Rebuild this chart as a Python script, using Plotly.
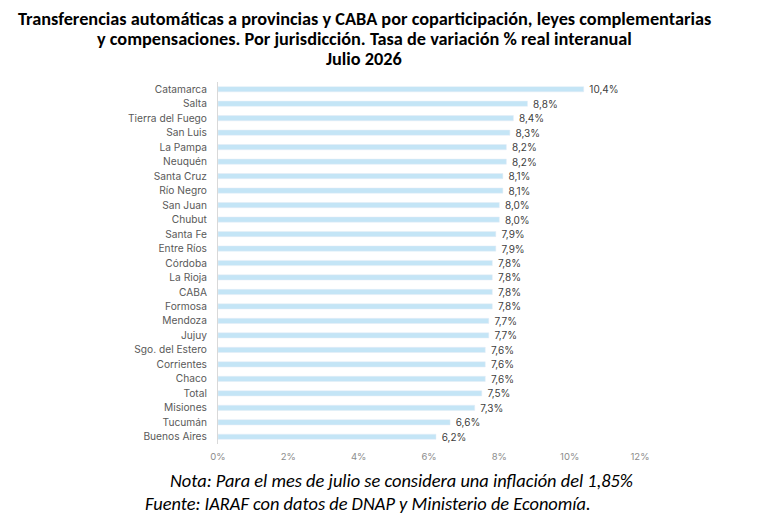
import plotly.graph_objects as go

provincias = ["Catamarca", "Salta", "Tierra del Fuego", "San Luis", "La Pampa", "Neuquén",
              "Santa Cruz", "Río Negro", "San Juan", "Chubut", "Santa Fe", "Entre Ríos",
              "Córdoba", "La Rioja", "CABA", "Formosa", "Mendoza", "Jujuy", "Sgo. del Estero",
              "Corrientes", "Chaco", "Total", "Misiones", "Tucumán", "Buenos Aires"]
variacion = [10.4, 8.8, 8.4, 8.3, 8.2, 8.2, 8.1, 8.1, 8.0, 8.0, 7.9, 7.9,
             7.8, 7.8, 7.8, 7.8, 7.7, 7.7, 7.6, 7.6, 7.6, 7.5, 7.3, 6.6, 6.2]
etiquetas = ["\u00a0\u00a0" + f"{v:.1f}%".replace(".", ",") for v in variacion]
ticks_x = [0, 2, 4, 6, 8, 10, 12]
ticks_x_txt = [f"{t}%" for t in ticks_x]

titulo = ["Transferencias automáticas a provincias y CABA por coparticipación, leyes complementarias",
          "y compensaciones. Por jurisdicción. Tasa de variación % real interanual",
          "Julio 2026"]
nota = "Nota: Para el mes de julio se considera una inflación del 1,85%"
fuente = "Fuente: IARAF con datos de DNAP y Ministerio de Economía."

fig = go.Figure(go.Bar(
    x=variacion, y=provincias, orientation="h",
    marker_color="#C4E5F6",
    text=etiquetas, textposition="outside", cliponaxis=False, constraintext="none",
    textfont=dict(family="Inter", size=10, color="#404040"),
))

# titulo en tres lineas
notas = []
for linea, yy in zip(titulo, [1.175, 1.119, 1.063]):
    notas.append(dict(text=linea, xref="paper", yref="paper", x=0.346, y=yy, xanchor="center",
                      yanchor="middle", showarrow=False,
                      font=dict(family="Carlito, Lato", size=18.3, color="black", weight="bold")))
notas.append(dict(text=nota, xref="paper", yref="paper", x=-0.1185, y=-0.102, xanchor="left",
                  yanchor="middle", showarrow=False,
                  font=dict(family="Carlito, Lato", size=18.4, color="black", style="italic")))
notas.append(dict(text=fuente, xref="paper", yref="paper", x=-0.178, y=-0.163, xanchor="left",
                  yanchor="middle", showarrow=False,
                  font=dict(family="Carlito, Lato", size=18.4, color="black", style="italic")))

fig.update_layout(
    width=772, height=530,
    margin=dict(l=210, r=140, t=74, b=94),
    plot_bgcolor="white", paper_bgcolor="white",
    bargap=0.64,
    showlegend=False,
    annotations=notas,
)
fig.update_xaxes(range=[0, 12], tickvals=ticks_x, ticktext=ticks_x_txt, showgrid=False,
                 zeroline=False, showline=False, ticklabelstandoff=5,
                 tickfont=dict(family="Inter", size=9.5, color="#8C8C8C"))
fig.update_yaxes(autorange="reversed", showgrid=False, showline=True, linecolor="#D9D9D9",
                 linewidth=1, ticklabelstandoff=8,
                 tickfont=dict(family="Inter", size=10.2, color="#595959"))

fig.write_html("out.html")
